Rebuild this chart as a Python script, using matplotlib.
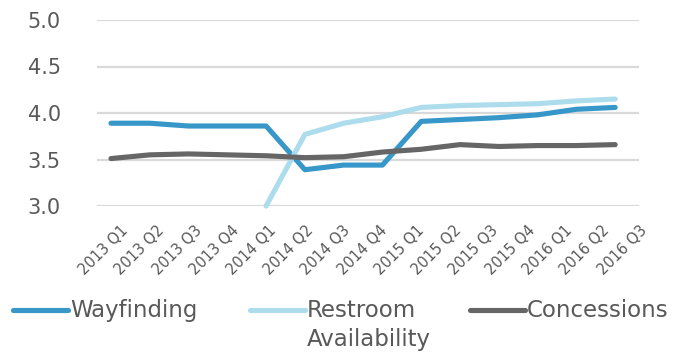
import numpy as np
import matplotlib
matplotlib.use("Agg")
import matplotlib.pyplot as plt
from matplotlib.lines import Line2D

quarters = ["2013 Q1", "2013 Q2", "2013 Q3", "2013 Q4", "2014 Q1", "2014 Q2",
            "2014 Q3", "2014 Q4", "2015 Q1", "2015 Q2", "2015 Q3", "2015 Q4",
            "2016 Q1", "2016 Q2", "2016 Q3"]
wayfinding = [3.89, 3.89, 3.86, 3.86, 3.86, 3.39, 3.44, 3.44, 3.91, 3.93,
              3.95, 3.98, 4.04, 4.06]
restroom = [np.nan, np.nan, np.nan, np.nan, 3.00, 3.77, 3.89, 3.96, 4.06,
            4.08, 4.09, 4.10, 4.13, 4.15]
concessions = [3.51, 3.55, 3.56, 3.55, 3.54, 3.52, 3.53, 3.58, 3.61, 3.66,
               3.64, 3.65, 3.65, 3.66]
y_ticks = [3.0, 3.5, 4.0, 4.5, 5.0]

series = [
    ("Wayfinding", wayfinding, "#3797C9"),
    ("Restroom\nAvailability", restroom, "#ADDCEC"),
    ("Concessions", concessions, "#666666"),
]

FONT = "DejaVu Sans"
TEXT = "#595959"

fig = plt.figure(figsize=(6.92, 3.52), dpi=100)
W, H = 692, 352
ax = fig.add_axes([97 / W, 1 - 206 / H, (639 - 97) / W, (206 - 20) / H])

x = np.arange(len(wayfinding))
for label, vals, color in series:
    ax.plot(x, vals, color=color, lw=3.7, solid_capstyle="round",
            solid_joinstyle="round", clip_on=False, zorder=3)

ax.set_ylim(3.0, 5.0)
ax.set_xlim(-0.36, 13.6)
ax.set_yticks(y_ticks)
ax.set_yticklabels([f"{v:.1f}" for v in y_ticks], fontsize=15,
                   family=FONT, color=TEXT)
ax.tick_params(axis="y", length=0, pad=26)
for v in y_ticks:
    ax.axhline(v, color="#D9D9D9", lw=1.6, zorder=1)

# category labels spread evenly beneath the plot
label_pos = 0.23 + 0.956 * np.arange(len(quarters))
ax.set_xticks(label_pos)
ax.set_xticklabels(quarters, rotation=45, ha="right", va="top",
                   rotation_mode="anchor", fontsize=10.5, family=FONT,
                   color=TEXT)
ax.tick_params(axis="x", length=0, pad=12)

for s in ax.spines.values():
    s.set_visible(False)

# legend row: handle, then label lines stacked below one another
handle_y = 1 - 310 / H
first_base = 1 - 317 / H
line_step = 29 / H
handles = [(13, 68), (250, 305), (470, 525)]
for (label, vals, color), (x0, x1) in zip(series, handles):
    fig.add_artist(Line2D([x0 / W, x1 / W], [handle_y, handle_y],
                          color=color, lw=3.7, solid_capstyle="round",
                          transform=fig.transFigure))
    for i, part in enumerate(label.split("\n")):
        fig.text(x1 / W + 0.003, first_base - i * line_step, part,
                 fontsize=16.5, family=FONT, color=TEXT, ha="left",
                 va="baseline", transform=fig.transFigure)

fig.savefig("out.png", dpi=100, facecolor="white")
